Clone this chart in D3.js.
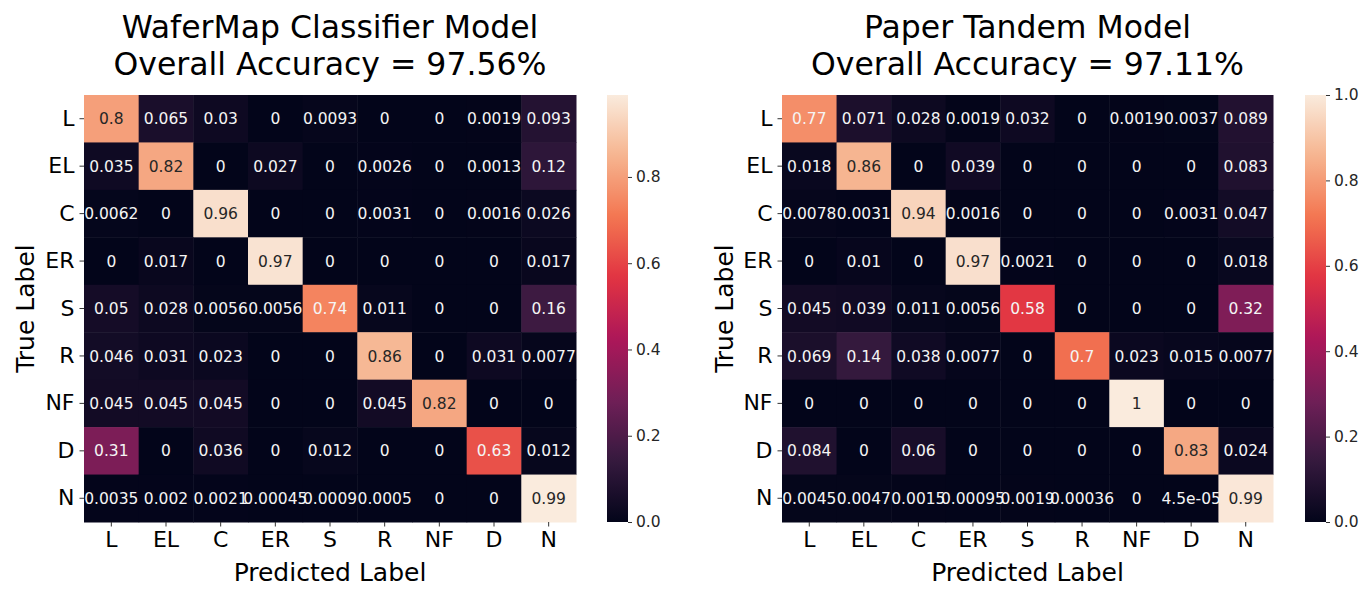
<!DOCTYPE html>
<html>
<head>
<meta charset="utf-8">
<script src="https://cdn.jsdelivr.net/npm/d3@7"></script>
<style>
  body { margin: 0; background: #fff; }
  text { font-family: "DejaVu Sans", sans-serif; }
</style>
</head>
<body>
<svg id="chart" width="1372" height="597"></svg>
<script>
// class names (rows = true label, columns = predicted label)
const classes = ["L", "EL", "C", "ER", "S", "R", "NF", "D", "N"];

const waferMapCM = [
  [0.8, 0.065, 0.03, 0, 0.0093, 0, 0, 0.0019, 0.093],
  [0.035, 0.82, 0, 0.027, 0, 0.0026, 0, 0.0013, 0.12],
  [0.0062, 0, 0.96, 0, 0, 0.0031, 0, 0.0016, 0.026],
  [0, 0.017, 0, 0.97, 0, 0, 0, 0, 0.017],
  [0.05, 0.028, 0.0056, 0.0056, 0.74, 0.011, 0, 0, 0.16],
  [0.046, 0.031, 0.023, 0, 0, 0.86, 0, 0.031, 0.0077],
  [0.045, 0.045, 0.045, 0, 0, 0.045, 0.82, 0, 0],
  [0.31, 0, 0.036, 0, 0.012, 0, 0, 0.63, 0.012],
  [0.0035, 0.002, 0.0021, 0.00045, 0.0009, 0.0005, 0, 0, 0.99]
];

const tandemCM = [
  [0.77, 0.071, 0.028, 0.0019, 0.032, 0, 0.0019, 0.0037, 0.089],
  [0.018, 0.86, 0, 0.039, 0, 0, 0, 0, 0.083],
  [0.0078, 0.0031, 0.94, 0.0016, 0, 0, 0, 0.0031, 0.047],
  [0, 0.01, 0, 0.97, 0.0021, 0, 0, 0, 0.018],
  [0.045, 0.039, 0.011, 0.0056, 0.58, 0, 0, 0, 0.32],
  [0.069, 0.14, 0.038, 0.0077, 0, 0.7, 0.023, 0.015, 0.0077],
  [0, 0, 0, 0, 0, 0, 1, 0, 0],
  [0.084, 0, 0.06, 0, 0, 0, 0, 0.83, 0.024],
  [0.0045, 0.0047, 0.0015, 0.00095, 0.0019, 0.00036, 0, 4.5e-05, 0.99]
];

const waferTitle = ["WaferMap Classifier Model", "Overall Accuracy = 97.56%"];
const tandemTitle = ["Paper Tandem Model", "Overall Accuracy = 97.11%"];
const cbTicksLeft = [0, 0.2, 0.4, 0.6, 0.8];
const cbTicksRight = [0, 0.2, 0.4, 0.6, 0.8, 1.0];

// seaborn "rocket" colormap, approximated with a few key colours
const rocket = d3.scaleLinear()
  .domain([0, 1/7, 2/7, 3/7, 4/7, 5/7, 6/7, 1])
  .range(["#03051a", "#35193e", "#701f57", "#ad1759", "#e13342", "#f37651", "#f6b48f", "#faebdd"])
  .interpolate(d3.interpolateRgb)
  .clamp(true);

// python-style "%.2g"
function fmtG(v) {
  if (v === 0) return "0";
  const e = Math.floor(Math.log10(Math.abs(v)));
  if (e < -4) {
    let [m, x] = v.toExponential(1).split("e");
    m = m.replace(/\.?0+$/, "");
    const ex = +x;
    return m + "e" + (ex < 0 ? "-" : "+") + String(Math.abs(ex)).padStart(2, "0");
  }
  return String(+v.toPrecision(2));
}

function luminance(c) {
  const rgb = d3.rgb(c);
  const lin = u => { u /= 255; return u <= 0.03928 ? u / 12.92 : Math.pow((u + 0.055) / 1.055, 2.4); };
  return 0.2126 * lin(rgb.r) + 0.7152 * lin(rgb.g) + 0.0722 * lin(rgb.b);
}

const svg = d3.select("#chart");
svg.append("rect").attr("width", 1372).attr("height", 597).attr("fill", "#fff");

function drawPanel(id, data, title, cbTicks, left, right, cbX, yLabX) {
  const top = 95, bottom = 522;
  const vmax = d3.max(data.flat());
  const color = v => rocket(v / vmax);

  const x = d3.scaleBand().domain(classes).range([left, right]);
  const y = d3.scaleBand().domain(classes).range([top, bottom]);

  const g = svg.append("g");

  const cells = data.flatMap((row, i) => row.map((v, j) => ({ r: classes[i], c: classes[j], v })));

  g.selectAll("rect.cell")
    .data(cells)
    .enter()
    .append("rect")
    .attr("class", "cell")
    .attr("x", d => x(d.c))
    .attr("y", d => y(d.r))
    .attr("width", x.bandwidth() + 0.5)
    .attr("height", y.bandwidth() + 0.5)
    .attr("fill", d => color(d.v));

  g.selectAll("text.annot")
    .data(cells)
    .enter()
    .append("text")
    .attr("class", "annot")
    .attr("x", d => x(d.c) + x.bandwidth() / 2)
    .attr("y", d => y(d.r) + y.bandwidth() / 2)
    .attr("dy", "0.36em")
    .attr("text-anchor", "middle")
    .style("font-size", "15.5px")
    .attr("fill", d => luminance(color(d.v)) > 0.408 ? "#262626" : "#f4f4f4")
    .text(d => fmtG(d.v));

  // axes
  const xAxis = g.append("g")
    .attr("transform", `translate(0,${bottom})`)
    .call(d3.axisBottom(x).tickSize(4.5).tickPadding(5));
  xAxis.select(".domain").remove();
  xAxis.selectAll("text").style("font-size", "22px").attr("fill", "#000").attr("dy", "0.72em");
  xAxis.selectAll("line").attr("stroke", "#333");

  const yAxis = g.append("g")
    .attr("transform", `translate(${left},0)`)
    .call(d3.axisLeft(y).tickSize(4.5).tickPadding(5));
  yAxis.select(".domain").remove();
  yAxis.selectAll("text").style("font-size", "22px").attr("fill", "#000");
  yAxis.selectAll("line").attr("stroke", "#333");

  // axis labels
  g.append("text")
    .attr("x", (left + right) / 2)
    .attr("y", 581)
    .attr("text-anchor", "middle")
    .style("font-size", "25px")
    .text("Predicted Label");

  g.append("text")
    .attr("transform", `translate(${yLabX},${(top + bottom) / 2}) rotate(-90)`)
    .attr("text-anchor", "middle")
    .style("font-size", "25px")
    .text("True Label");

  // title
  g.selectAll("text.title")
    .data(title)
    .enter()
    .append("text")
    .attr("class", "title")
    .attr("x", (left + right) / 2)
    .attr("y", (d, i) => 38 + i * 37)
    .attr("text-anchor", "middle")
    .style("font-size", "31.5px")
    .text(d => d);

  // colorbar
  const cbW = 21;
  const grad = svg.append("defs").append("linearGradient")
    .attr("id", id)
    .attr("x1", 0).attr("y1", 1).attr("x2", 0).attr("y2", 0);
  grad.selectAll("stop")
    .data(d3.range(0, 1.0001, 0.02))
    .enter()
    .append("stop")
    .attr("offset", d => d)
    .attr("stop-color", d => rocket(d));

  g.append("rect")
    .attr("x", cbX).attr("y", top)
    .attr("width", cbW).attr("height", bottom - top)
    .attr("fill", `url(#${id})`);

  const cbScale = d3.scaleLinear().domain([0, vmax]).range([bottom, top]);
  const cbAxis = g.append("g")
    .attr("transform", `translate(${cbX + cbW},0)`)
    .call(d3.axisRight(cbScale).tickValues(cbTicks).tickFormat(d3.format(".1f")).tickSize(4).tickPadding(4));
  cbAxis.select(".domain").remove();
  cbAxis.selectAll("text").style("font-size", "15.5px").attr("fill", "#262626");
  cbAxis.selectAll("line").attr("stroke", "#333");
}

drawPanel("gradA", waferMapCM, waferTitle, cbTicksLeft, 84, 576, 607, 34);
drawPanel("gradB", tandemCM, tandemTitle, cbTicksRight, 782, 1273, 1305, 733);
</script>
</body>
</html>
